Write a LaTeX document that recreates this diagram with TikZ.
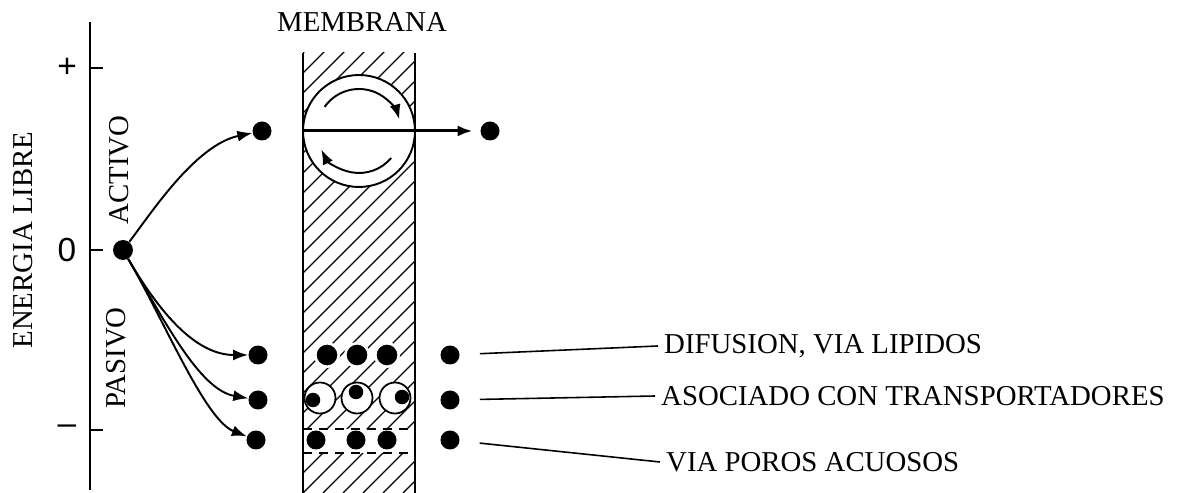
\documentclass[tikz,border=0pt]{standalone}
\usepackage{fontspec}
\setmainfont{Liberation Serif}
\newfontfamily\axisfont{Liberation Sans}
\usetikzlibrary{arrows.meta}

\begin{document}
\begin{tikzpicture}[x=0.02cm,y=0.02cm,
	every node/.style={font=\fontsize{16.4}{19}\selectfont},
	dot/.style={circle,fill,inner sep=0pt,minimum size=0.38cm},
	halo/.style={dot,draw=white,line width=1.5pt,minimum size=0.47cm},
	carrier/.style={circle,draw,fill=white,line width=1pt,inner sep=0pt,minimum size=0.62cm},
	flow/.style={-{Latex[length=0.3cm,width=0.22cm]},line width=1.1pt},
	wall/.style={line width=1.2pt},
	leader/.style={line width=0.9pt,shorten <=0.4cm}]
	\useasboundingbox (0,0) rectangle (1192,493);
	% eje de energia
	\draw[wall] (90,3) -- (90,471);
	\foreach \y/\l in {425/+,243/0,63/–} {
		\draw[wall] (90,\y) -- (103,\y);
		\node[font=\axisfont\fontsize{19}{22}\selectfont] (tick\y) at (67,\y) {\l};
	}
	\node[rotate=90] (elibre) at (23,253) {ENERGIA LIBRE};
	\node[rotate=90] (activo) at (119,323) {ACTIVO};
	\node[rotate=90] (pasivo) at (116,135) {PASIVO};
	% membrana
	\begin{scope}
		\clip (303,0) rectangle (415,440);
		\foreach \i in {-460,-440,...,420}
			\draw[line width=0.75pt] (303+\i,0) -- ++(480,480);
	\end{scope}
	\fill[white] (303,40) rectangle (415,64);
	\draw[line width=1pt,dash pattern=on 0.18cm off 0.14cm] (303,64) -- (415,64);
	\draw[line width=1pt,dash pattern=on 0.18cm off 0.14cm] (303,40) -- (415,40);
	\draw[wall] (303,0) -- (303,440) (415,0) -- (415,440);
	\node (memb) at (362,471) {MEMBRANA};
	% transporte activo
	\node[circle,draw,fill=white,line width=1.1pt,inner sep=0pt,minimum size=2.24cm] (rot) at (359,362) {};
	\draw[flow] ([shift={(145:42)}]rot.center) arc[start angle=145,end angle=16,radius=42];
	\draw[flow] ([shift={(-40:42)}]rot.center) arc[start angle=-40,end angle=-154,radius=42];
	\node[dot,minimum size=0.4cm] (s) at (123,243) {};
	\node[dot] (a) at (262,362) {};
	\node[dot] (r0) at (490,362) {};
	\draw[flow] (s) .. controls (150,278) and (195,348) .. (a);
	\draw[flow,line width=1.7pt,shorten >=0.15cm] (rot.west) -- (r0.west);
	% transporte pasivo
	\node[dot] (d1) at (258,138) {};
	\node[dot] (d2) at (258,93) {};
	\node[dot] (d3) at (256,53) {};
	\draw[flow] (s) .. controls (165,171) and (200,138) .. (d1);
	\draw[flow] (s) .. controls (165,171) and (200,103) .. (d2);
	\draw[flow] (s) .. controls (165,171) and (205,73) .. (d3);
	\foreach \x in {327,357,387}
		\node[halo] (m\x) at (\x,138) {};
	\foreach \x/\bx/\by [count=\k] in {320/313/93,357/356/101,395/402/96} {
		\node[carrier] (c\k) at (\x,95) {};
		\node[dot,minimum size=0.29cm] (b\k) at (\bx,\by) {};
	}
	\foreach \x in {316,356,387}
		\node[dot] (p\x) at (\x,53) {};
	\node[dot] (r1) at (450,138) {};
	\node[dot] (r2) at (450,93) {};
	\node[dot] (r3) at (450,53) {};
	\node[anchor=west] (t1) at (658,147) {DIFUSION, VIA LIPIDOS};
	\node[anchor=west] (t2) at (655,97) {ASOCIADO CON TRANSPORTADORES};
	\node[anchor=west] (t3) at (660,31) {VIA POROS ACUOSOS};
	\draw[leader] (r1) -- (t1.west);
	\draw[leader] (r2) -- (t2.west);
	\draw[leader] (r3) -- (t3.west);
\end{tikzpicture}
\end{document}
